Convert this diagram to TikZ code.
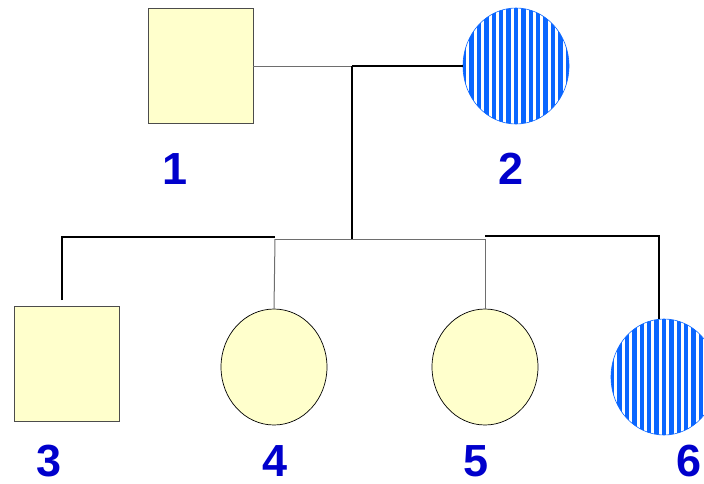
\documentclass[tikz,border=0pt]{standalone}
\usepackage{fontspec}
\setmainfont{Liberation Sans}
\usetikzlibrary{shapes.geometric}
\definecolor{sqfill}{HTML}{FFFFCC}
\definecolor{stripeblue}{HTML}{0A66FF}
\definecolor{labelblue}{HTML}{0000CC}
\definecolor{edgegray}{HTML}{6E6E6E}
\tikzset{
  male/.style={rectangle, draw=black!70, line width=0.9pt, fill=sqfill, inner sep=0pt, minimum width=105pt, minimum height=115pt},
  female/.style={ellipse, draw=black, line width=0.7pt, fill=sqfill, inner sep=0pt, minimum width=106pt, minimum height=116pt},
  striped/.style={draw=stripeblue, fill=white, line width=0.6pt,
    path picture={
      \foreach \i in {-9,...,9}
        \fill[stripeblue] ([xshift=\i*7.4pt-2.2pt, yshift=-75pt]path picture bounding box.center) rectangle ++(4.4pt,150pt);
    }},
  thinline/.style={draw=edgegray, line width=1pt},
  thickline/.style={draw=black, line width=1.8pt},
  midline/.style={draw=black, line width=1.2pt},
  lbl/.style={text=labelblue, font=\fontsize{45}{45}\selectfont\bfseries, inner sep=0pt, text height=32pt, text depth=0pt}
}
\begin{document}
\begin{tikzpicture}[x=1pt,y=-1pt]
\useasboundingbox (0,0) rectangle (704,483);
\clip (0,0) rectangle (704,483);
% individuals
\node[male] (p1) at (200.5,66) {};
\node[female,striped] (p2) at (516,66) {};
\node[male] (p3) at (66.5,363.5) {};
\node[female] (p4) at (274,367) {};
\node[female] (p5) at (485,367) {};
\node[female,striped] (p6) at (664,377) {};
% labels
\node[lbl] (l1) at (175.5,168) {1};
\node[lbl] (l2) at (511,168) {2};
\node[lbl] (l3) at (49,460) {3};
\node[lbl] (l4) at (275,460) {4};
\node[lbl] (l5) at (476,460) {5};
\node[lbl] (l6) at (689,460) {6};
% connection points
\coordinate (m) at (352,66);
\coordinate (s) at (352,239);
\coordinate (t3) at (62,300);
\coordinate (a4) at (275,239);
\coordinate (a5) at (485,239);
\coordinate (b4) at (275,237);
\coordinate (b5) at (485,236);
\coordinate (t6) at (659,319);
% mating line
\draw[thinline] (p1.east) -- (m);
\draw[midline] (m) -- (p2.west);
% descent line
\draw[thickline] (m) -- (s);
% sibship line
\draw[thickline] (t3) |- (b4);
\draw[thinline] (a4) -- (a5);
\draw[thickline] (t6) |- (b5);
\draw[thinline] (p4.north) -- (a4);
\draw[thinline] (p5.north) -- (a5);
\end{tikzpicture}
\end{document}
